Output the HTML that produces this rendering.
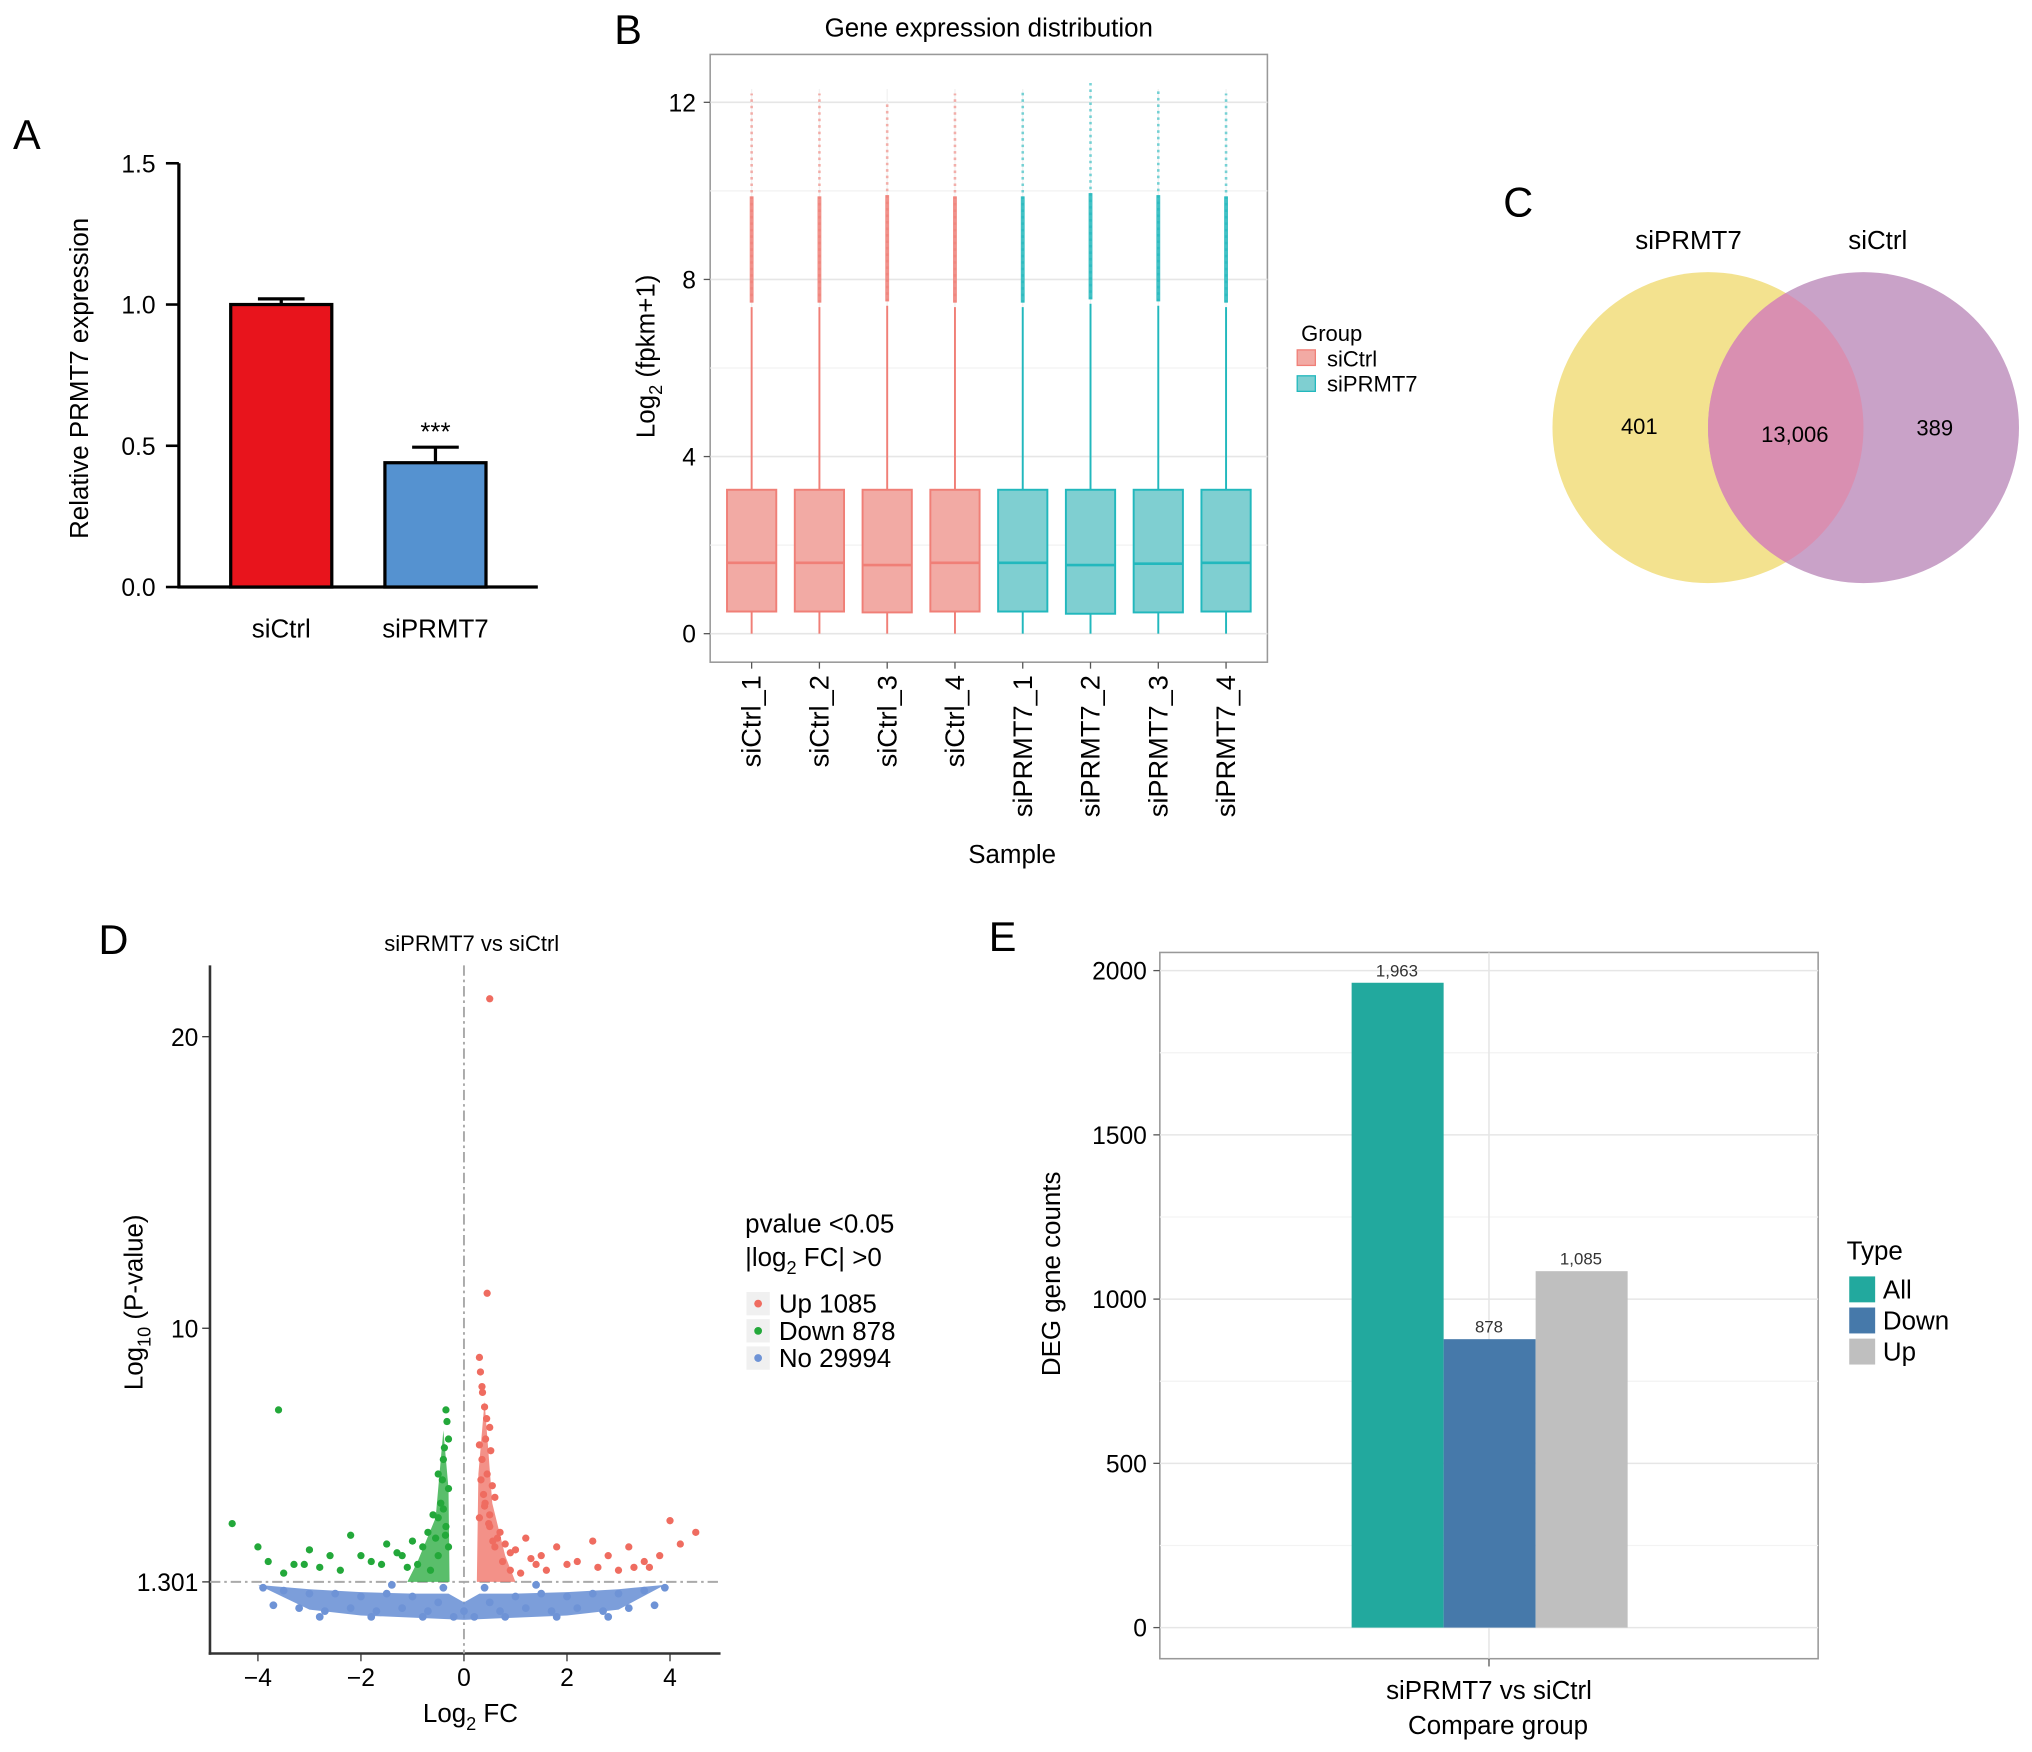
<!DOCTYPE html>
<html><head><meta charset="utf-8"><style>
html,body{margin:0;padding:0;background:#fff;}
svg{display:block;font-family:"Liberation Sans",Arial,sans-serif;}
</style></head><body>
<svg id="fig" width="2032" height="1752" viewBox="0 0 1568 1352" xmlns="http://www.w3.org/2000/svg">
<g id="A"></g>
<g id="B"></g>
<g id="C"></g>
<g id="D"></g>
<g id="E"></g>
</svg>
<script>
// ---- data ----
const aCats=["siCtrl","siPRMT7"];
const aVals=[1.0,0.44];
const aErr=[0.02,0.055];
const aTicks=[0,0.5,1.0,1.5];
const bSamples=["siCtrl_1","siCtrl_2","siCtrl_3","siCtrl_4","siPRMT7_1","siPRMT7_2","siPRMT7_3","siPRMT7_4"];
const bQ1=[0.5,0.5,0.48,0.5,0.5,0.45,0.48,0.5];
const bMed=[1.6,1.6,1.55,1.6,1.6,1.55,1.58,1.6];
const bQ3=[3.25,3.25,3.25,3.25,3.25,3.25,3.25,3.25];
const bMax=[12.2,12.2,12.0,12.2,12.3,12.5,12.3,12.2];
const bTicks=[0,4,8,12];
const cLeft=401, cBoth=13006, cRight=389;
const dUpX=[0.5,0.45,0.3,0.35,0.4,0.5,0.3,0.35,0.45,0.55,0.6,0.4,0.3,0.5,0.7,0.8,1.0,1.2,1.5,1.8,2.2,2.5,2.8,3.2,3.5,4.0,4.5,4.2,3.8,3.3,2.0,1.6,1.3,0.9,0.65,0.38,0.42,0.5,0.6,0.75,0.9,1.1,1.4,2.6,3.0,3.6,0.32,0.36,0.44,0.52,0.33,0.41,0.48,0.56];
const dUpY=[21.3,11.2,9.0,8.0,7.3,6.6,6.0,5.5,5.0,4.6,4.2,3.9,3.5,3.2,3.0,2.6,2.4,2.8,2.2,2.5,2.0,2.7,2.2,2.5,2.0,3.4,3.0,2.6,2.2,1.8,1.9,1.7,2.1,2.3,2.8,4.3,6.2,3.6,2.5,2.0,1.7,1.6,1.9,1.8,1.7,1.8,8.5,7.8,6.9,5.8,4.8,4.0,3.3,2.7];
const dDnX=[-0.35,-0.3,-0.4,-0.5,-0.3,-0.45,-0.6,-0.35,-0.7,-0.8,-1.0,-1.2,-1.5,-1.8,-2.2,-2.6,-3.0,-3.3,-3.6,-4.0,-4.5,-3.8,-2.8,-2.0,-1.6,-1.3,-0.9,-0.55,-0.4,-0.3,-0.5,-0.65,-1.1,-2.4,-3.1,-3.5,-0.33,-0.38,-0.42,-0.5,-0.36];
const dDnY=[7.2,6.2,5.5,5.0,4.5,4.0,3.6,3.2,3.0,2.5,2.7,2.2,2.6,2.0,2.9,2.2,2.4,1.9,7.2,2.5,3.3,2.0,1.8,2.2,1.9,2.3,1.9,2.8,3.8,2.5,2.2,1.7,1.8,1.7,1.9,1.6,6.8,5.9,4.8,3.5,2.9];
const dNoX=[-3.9,-3.5,-3.0,-2.5,-2.0,-1.5,-1.0,-0.5,0,0.5,1.0,1.5,2.0,2.5,3.0,3.5,3.9,-3.7,-3.2,-2.7,-2.2,-1.7,-1.2,-0.7,-0.2,0.2,0.7,1.2,1.7,2.2,2.7,3.2,3.7,-2.8,-1.8,-0.8,0.8,1.8,2.8,-1.4,-0.4,0.4,1.4];
const dNoY=[1.1,1.0,0.9,0.9,0.8,0.9,0.8,0.6,0.3,0.6,0.8,0.9,0.8,0.9,0.9,1.0,1.1,0.5,0.4,0.3,0.4,0.3,0.4,0.3,0.1,0.1,0.3,0.4,0.3,0.4,0.3,0.4,0.5,0.1,0.1,0.1,0.1,0.1,0.1,1.2,1.1,1.1,1.2];
const dXTicks=[-4,-2,0,2,4];
const dYTicks=[1.301,10,20];
const eTypes=["All","Down","Up"];
const eVals=[1963,878,1085];
const eTicks=[0,500,1000,1500,2000];

const NS="http://www.w3.org/2000/svg";
function mk(p,tag,at,txt){const e=document.createElementNS(NS,tag);for(const k in at)e.setAttribute(k,at[k]);if(txt!==undefined)e.textContent=txt;p.appendChild(e);return e;}
const A=document.getElementById('A'),B=document.getElementById('B'),C=document.getElementById('C'),D=document.getElementById('D'),E=document.getElementById('E');
function letter(p,x,y,t){const e=mk(p,'text',{x:x,y:y,'font-size':32,fill:'#000'},t);}
letter(A,10,115,'A');letter(B,474,34,'B');letter(C,1160,167,'C');letter(D,76,736,'D');letter(E,763,734,'E');

// ---- Panel A ----
const ay=v=>453-v*218;
mk(A,'line',{x1:138,y1:126,x2:138,y2:454,stroke:'#000','stroke-width':2.5});
mk(A,'line',{x1:137,y1:453,x2:415,y2:453,stroke:'#000','stroke-width':2.5});
aTicks.forEach(t=>{mk(A,'line',{x1:128,y1:ay(t),x2:138,y2:ay(t),stroke:'#000','stroke-width':2});
 const e=mk(A,'text',{x:120,y:ay(t)+7,'font-size':19,'text-anchor':'end'},t.toFixed(1));});
const aCol=['#e8141c','#5592d0'];
aCats.forEach((c,i)=>{const cx=217+i*119;
 mk(A,'line',{x1:cx,y1:ay(aVals[i]),x2:cx,y2:ay(aVals[i]+aErr[i]),stroke:'#000','stroke-width':2.5});
 mk(A,'line',{x1:cx-18,y1:ay(aVals[i]+aErr[i]),x2:cx+18,y2:ay(aVals[i]+aErr[i]),stroke:'#000','stroke-width':2.5});
 const r=mk(A,'rect',{x:cx-39,y:ay(aVals[i]),width:78,height:ay(0)-ay(aVals[i]),fill:aCol[i],stroke:'#000','stroke-width':2.5});
 
 const t=mk(A,'text',{x:cx,y:492,'font-size':20,'text-anchor':'middle'},c);});
mk(A,'text',{x:336,y:340,'font-size':20,'text-anchor':'middle'},'***');
mk(A,'text',{x:0,y:0,'font-size':20,'text-anchor':'middle',transform:'translate(68,292) rotate(-90)'},'Relative PRMT7 expression');

// ---- Panel B ----
const by=v=>489-v*34.17, bx=i=>580+i*52.3;
mk(B,'rect',{x:548,y:42,width:430,height:469,fill:'#fff',stroke:'#999','stroke-width':1.2});
[2,6,10].forEach(t=>mk(B,'line',{x1:548,x2:978,y1:by(t),y2:by(t),stroke:'#f2f2f2','stroke-width':1}));
bTicks.forEach(t=>{mk(B,'line',{x1:548,x2:978,y1:by(t),y2:by(t),stroke:'#e6e6e6','stroke-width':1.2});
 mk(B,'line',{x1:543,x2:548,y1:by(t),y2:by(t),stroke:'#555'});
 mk(B,'text',{x:537,y:by(t)+7,'font-size':19,'text-anchor':'end'},t);});
bSamples.forEach((s,i)=>{mk(B,'line',{x1:bx(i),x2:bx(i),y1:by(0),y2:by(12.3),stroke:'#f2f2f2'});});
bSamples.forEach((s,i)=>{const c=i<4?'#f07f77':'#22b8bd', f=i<4?'#f2aaa4':'#7fcfd1';const x=bx(i);
 const iqr=bQ3[i]-bQ1[i], uw=bQ3[i]+1.5*iqr;
 mk(B,'line',{x1:x,x2:x,y1:by(0),y2:by(bQ1[i]),stroke:c,'stroke-width':1.5});
 mk(B,'line',{x1:x,x2:x,y1:by(bQ3[i]),y2:by(uw),stroke:c,'stroke-width':1.5});
 mk(B,'line',{x1:x,x2:x,y1:by(uw+0.1),y2:by(bMax[i]),stroke:c,'stroke-width':2,'stroke-dasharray':'2 3',opacity:0.6});
 mk(B,'line',{x1:x,x2:x,y1:by(uw+0.1),y2:by(uw+2.5),stroke:c,'stroke-width':3,opacity:0.85});
 const r=mk(B,'rect',{x:x-19,y:by(bQ3[i]),width:38,height:by(bQ1[i])-by(bQ3[i]),fill:f,stroke:c,'stroke-width':1.5});
 
 mk(B,'line',{x1:x-19,x2:x+19,y1:by(bMed[i]),y2:by(bMed[i]),stroke:c,'stroke-width':2});
 mk(B,'line',{x1:x,x2:x,y1:511,y2:516,stroke:'#555'});
 mk(B,'text',{x:0,y:0,'font-size':21,'text-anchor':'end',transform:`translate(${x+7},521) rotate(-90)`},s);});
mk(B,'text',{x:763,y:28,'font-size':20,'text-anchor':'middle'},'Gene expression distribution');
mk(B,'text',{x:781,y:666,'font-size':20,'text-anchor':'middle'},'Sample');
const bl=mk(B,'text',{x:0,y:0,'font-size':20,'text-anchor':'middle',transform:'translate(505,275) rotate(-90)'});
bl.innerHTML='Log<tspan font-size="14" dy="6">2</tspan><tspan dy="-6"> (fpkm+1)</tspan>';
mk(B,'text',{x:1004,y:263,'font-size':17},'Group');
mk(B,'rect',{x:1001,y:270,width:14,height:12,fill:'#f2aaa4',stroke:'#f07f77'});
mk(B,'rect',{x:1001,y:290,width:14,height:12,fill:'#7fcfd1',stroke:'#22b8bd'});
mk(B,'text',{x:1024,y:283,'font-size':17},'siCtrl');
mk(B,'text',{x:1024,y:302,'font-size':17},'siPRMT7');

// ---- Panel C ----
const vc1=mk(C,'circle',{cx:1318,cy:330,r:120,fill:'#f3e28f'});
const vc2=mk(C,'circle',{cx:1438,cy:330,r:120,fill:'#c9a2c8'});
mk(C,'defs',{}).innerHTML='<clipPath id="cl1"><circle cx="1318" cy="330" r="120"/></clipPath>';
mk(C,'circle',{cx:1438,cy:330,r:120,fill:'#d98fb1','clip-path':'url(#cl1)'});
mk(C,'text',{x:1303,y:192,'font-size':20,'text-anchor':'middle'},'siPRMT7');
mk(C,'text',{x:1449,y:192,'font-size':20,'text-anchor':'middle'},'siCtrl');
mk(C,'text',{x:1265,y:335,'font-size':17,'text-anchor':'middle'},cLeft);
mk(C,'text',{x:1385,y:341,'font-size':17,'text-anchor':'middle'},cBoth.toLocaleString('en-US'));
mk(C,'text',{x:1493,y:336,'font-size':17,'text-anchor':'middle'},cRight);

// ---- Panel D ----
const dx=v=>358+v*39.75, dy=v=>1250-v*22.5;
mk(D,'line',{x1:162,y1:745,x2:162,y2:1277,stroke:'#333','stroke-width':2});
mk(D,'line',{x1:161,y1:1276,x2:556,y2:1276,stroke:'#333','stroke-width':2});
mk(D,'line',{x1:dx(0),x2:dx(0),y1:745,y2:1276,stroke:'#aaa','stroke-width':1.5,'stroke-dasharray':'8 3 2 3'});
mk(D,'line',{x1:162,x2:556,y1:dy(1.301),y2:dy(1.301),stroke:'#aaa','stroke-width':1.5,'stroke-dasharray':'8 3 2 3'});
dXTicks.forEach(t=>{mk(D,'line',{x1:dx(t),x2:dx(t),y1:1276,y2:1282,stroke:'#333'});
 mk(D,'text',{x:dx(t),y:1301,'font-size':19,'text-anchor':'middle'},t<0?'\u2212'+(-t):t);});
dYTicks.forEach(t=>{mk(D,'line',{x1:156,x2:162,y1:dy(t),y2:dy(t),stroke:'#333'});
 mk(D,'text',{x:153,y:dy(t)+7,'font-size':19,'text-anchor':'end'},t);});
let band='M'+dx(-4)+','+dy(1.2);
[[-3,1.05],[-2,0.95],[-1,0.9],[-0.3,0.9],[0,0.6],[0.3,0.9],[1,0.9],[2,0.95],[3,1.05],[3.9,1.2],[3,0.35],[2,0.15],[0,0],[-2,0.15],[-3,0.35],[-4,1.2]].forEach(p=>band+=' L'+dx(p[0])+','+dy(p[1]));
mk(D,'path',{d:band+'Z',fill:'#6e93d6',opacity:0.9});
dNoX.forEach((v,i)=>{const c=mk(D,'circle',{cx:dx(v),cy:dy(dNoY[i]),r:3,fill:'#6e93d6'});});
// dense clusters near zero (tapered)
mk(D,'path',{d:`M${dx(0.25)},${dy(1.3)} L${dx(0.28)},${dy(5)} L${dx(0.4)},${dy(7.5)} L${dx(0.55)},${dy(4)} L${dx(0.8)},${dy(2.2)} L${dx(1.0)},${dy(1.3)} Z`,fill:'#ef6c60',opacity:0.75});
mk(D,'path',{d:`M${dx(-0.28)},${dy(1.3)} L${dx(-0.3)},${dy(4.5)} L${dx(-0.4)},${dy(6.5)} L${dx(-0.55)},${dy(3.5)} L${dx(-0.9)},${dy(2)} L${dx(-1.1)},${dy(1.3)} Z`,fill:'#23a83a',opacity:0.75});
dUpX.forEach((v,i)=>{const c=mk(D,'circle',{cx:dx(v),cy:dy(dUpY[i]),r:2.8,fill:'#ef6c60'});});
dDnX.forEach((v,i)=>{const c=mk(D,'circle',{cx:dx(v),cy:dy(dDnY[i]),r:2.8,fill:'#23a83a'});});
mk(D,'text',{x:364,y:734,'font-size':17,'text-anchor':'middle'},'siPRMT7 vs siCtrl');
const dxl=mk(D,'text',{x:363,y:1329,'font-size':20,'text-anchor':'middle'});dxl.innerHTML='Log<tspan font-size="14" dy="6">2</tspan><tspan dy="-6"> FC</tspan>';
const dyl=mk(D,'text',{x:0,y:0,'font-size':20,'text-anchor':'middle',transform:'translate(110,1005) rotate(-90)'});dyl.innerHTML='Log<tspan font-size="14" dy="6">10</tspan><tspan dy="-6"> (P-value)</tspan>';
mk(D,'text',{x:575,y:951,'font-size':20},'pvalue <0.05');
const lfc=mk(D,'text',{x:575,y:977,'font-size':20});lfc.innerHTML='|log<tspan font-size="14" dy="6">2</tspan><tspan dy="-6"> FC| &gt;0</tspan>';
[['Up 1085','#ef6c60'],['Down 878','#23a83a'],['No 29994','#6e93d6']].forEach((l,i)=>{const y=1006+i*21;
 mk(D,'rect',{x:576,y:y-9,width:18,height:18,fill:'#f0f0f0'});mk(D,'circle',{cx:585,cy:y,r:3,fill:l[1]});
 mk(D,'text',{x:601,y:y+7,'font-size':20},l[0]);});

// ---- Panel E ----
const ey=v=>1256-v*0.2535;
mk(E,'rect',{x:895,y:735,width:508,height:545,fill:'#fff',stroke:'#999','stroke-width':1.2});
[250,750,1250,1750].forEach(t=>mk(E,'line',{x1:895,x2:1403,y1:ey(t),y2:ey(t),stroke:'#f3f3f3'}));
eTicks.forEach(t=>{mk(E,'line',{x1:895,x2:1403,y1:ey(t),y2:ey(t),stroke:'#e6e6e6','stroke-width':1.2});
 mk(E,'line',{x1:890,x2:895,y1:ey(t),y2:ey(t),stroke:'#555'});
 mk(E,'text',{x:885,y:ey(t)+7,'font-size':19,'text-anchor':'end'},t);});
mk(E,'line',{x1:1149,x2:1149,y1:735,y2:1280,stroke:'#e6e6e6','stroke-width':1.2});
mk(E,'line',{x1:1149,x2:1149,y1:1280,y2:1286,stroke:'#555'});
const eCol=['#22a99e','#4679aa','#bfbfbf'];
eTypes.forEach((t,i)=>{const x=1043+i*71;
 const r=mk(E,'rect',{x:x,y:ey(eVals[i]),width:71,height:ey(0)-ey(eVals[i]),fill:eCol[i]});
 
 mk(E,'text',{x:x+35,y:ey(eVals[i])-5,'font-size':13,'text-anchor':'middle',fill:'#333'},eVals[i].toLocaleString('en-US'));
 mk(E,'rect',{x:1427,y:985+i*24,width:20,height:20,fill:eCol[i]});
 mk(E,'text',{x:1453,y:1002+i*24,'font-size':20},t);});
mk(E,'text',{x:1425,y:972,'font-size':20},'Type');
mk(E,'text',{x:1149,y:1311,'font-size':20,'text-anchor':'middle'},'siPRMT7 vs siCtrl');
mk(E,'text',{x:1156,y:1338,'font-size':20,'text-anchor':'middle'},'Compare group');
mk(E,'text',{x:0,y:0,'font-size':20,'text-anchor':'middle',transform:'translate(818,983) rotate(-90)'},'DEG gene counts');
</script>
</body></html>
